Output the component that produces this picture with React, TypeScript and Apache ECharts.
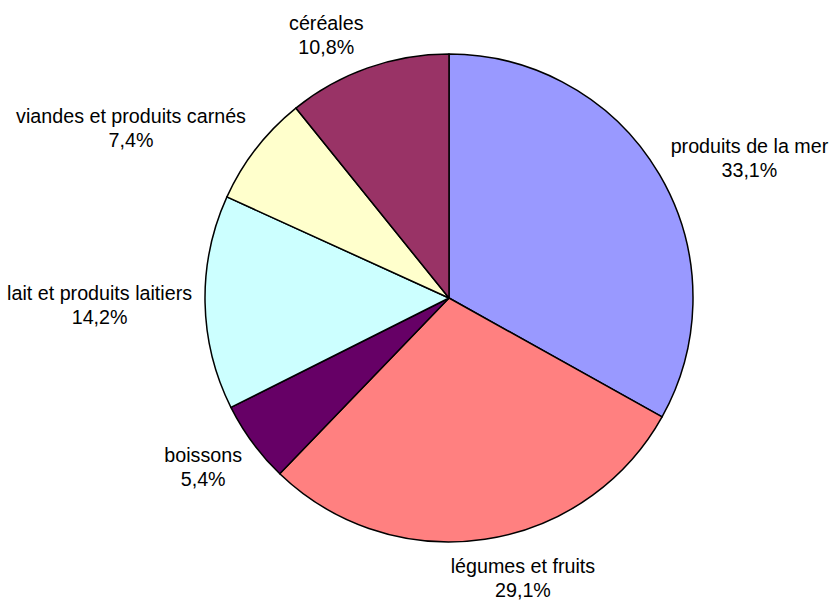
import React, { useEffect, useRef } from "react";
import * as echarts from "echarts";

const categories = [
  "produits de la mer",
  "légumes et fruits",
  "boissons",
  "lait et produits laitiers",
  "viandes et produits carnés",
  "céréales",
];
const shares = [33.1, 29.1, 5.4, 14.2, 7.4, 10.8];
const colors = ["#9999FF", "#FF8080", "#660066", "#CCFFFF", "#FFFFCC", "#993366"];

const CX = 449;
const CY = 298;
const R = 244;
const GAP = 13;

export default function App() {
  const ref = useRef<HTMLDivElement>(null);
  useEffect(() => {
    const chart = echarts.init(ref.current!, null, { renderer: "svg" });
    const total = shares.reduce((a, b) => a + b, 0);
    const mids = shares.map((v, i) => {
      const before = shares.slice(0, i).reduce((a, b) => a + b, 0);
      return ((before + v / 2) / total) * 2 * Math.PI;
    });
    chart.setOption({
      animation: false,
      backgroundColor: "#ffffff",
      series: [
        {
          type: "pie",
          center: [CX, CY],
          radius: R,
          startAngle: 90,
          clockwise: true,
          avoidLabelOverlap: false,
          data: categories.map((name, i) => ({
            name,
            value: shares[i],
            itemStyle: { color: colors[i] },
          })),
          itemStyle: { borderColor: "#000000", borderWidth: 1.5 },
          label: {
            show: true,
            position: "outside",
            formatter: (p: any) =>
              `${p.name}\n${Number(p.value).toFixed(1).replace(".", ",")}%`,
            fontFamily: "'Liberation Sans', Arial, sans-serif",
            fontSize: 19.7,
            lineHeight: 24,
            color: "#000000",
            align: "center",
          },
          labelLine: { show: false },
          emphasis: { disabled: true },
          labelLayout: (params: any) => {
            const a = mids[params.dataIndex];
            const dx = Math.sin(a);
            const dy = -Math.cos(a);
            const w = params.labelRect.width;
            const h = params.labelRect.height;
            const ratio = Math.min(1, Math.abs(dx) * 3.4);
            return {
              x: CX + dx * (R + GAP) + Math.sign(dx) * ratio * (w / 2),
              y: CY + dy * (R + GAP) + dy * (h / 2) + 2,
              align: "center",
              verticalAlign: "middle",
            };
          },
        },
      ],
    });
    return () => chart.dispose();
  }, []);
  return (
    <div
      ref={ref}
      style={{ position: "absolute", left: 0, top: 0, width: 832, height: 603 }}
    />
  );
}
